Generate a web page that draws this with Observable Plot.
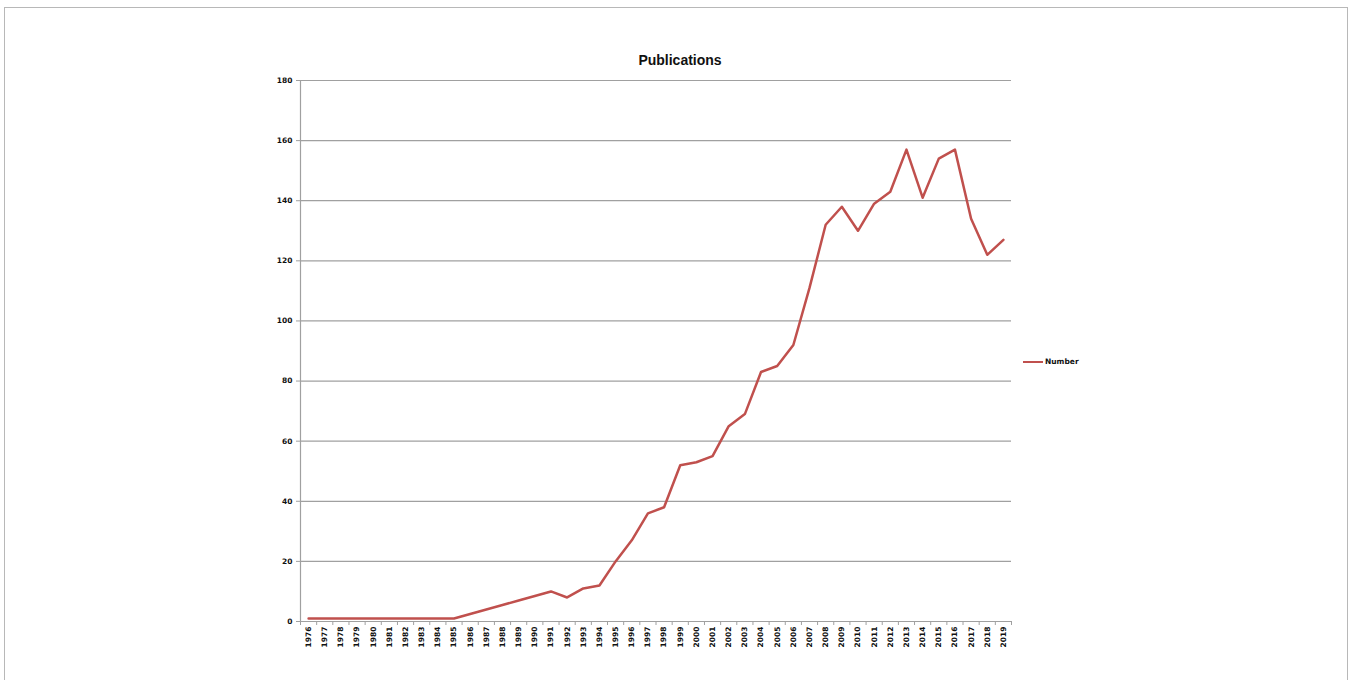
<!DOCTYPE html>
<html>
<head>
<meta charset="utf-8">
<script src="https://cdn.jsdelivr.net/npm/d3@7"></script>
<script src="https://cdn.jsdelivr.net/npm/@observablehq/plot@0.6"></script>
<style>
  html, body { margin: 0; padding: 0; background: #fff; }
  #wrap { position: relative; width: 1352px; height: 680px; overflow: hidden; }
  #frame { position: absolute; left: 4px; top: 7px; width: 1344px; height: 700px; border: 1px solid #b8b8b8; box-sizing: border-box; }
  #title { position: absolute; left: 0; top: 51px; width: 1360px; text-align: center; font: bold 14px "Liberation Sans", Arial, sans-serif; color: #111; line-height: 18px; }
  #legend { position: absolute; left: 1023px; top: 356px; font: bold 7.5px "DejaVu Sans", Verdana, sans-serif; color: #111; display: flex; align-items: center; line-height: 12px; }
  #legend .sw { display: inline-block; width: 20px; height: 2.5px; background: #c0504d; margin-right: 2px; }
  #chart { position: absolute; left: 0; top: 0; }
</style>
</head>
<body>
<div id="wrap">
  <div id="frame"></div>
  <div id="chart"></div>
  <div id="title">Publications</div>
  <div id="legend"><span class="sw"></span><span>Number</span></div>
</div>
<script>
const years = [1976, 1977, 1978, 1979, 1980, 1981, 1982, 1983, 1984, 1985,
  1986, 1987, 1988, 1989, 1990, 1991, 1992, 1993, 1994, 1995,
  1996, 1997, 1998, 1999, 2000, 2001, 2002, 2003, 2004, 2005,
  2006, 2007, 2008, 2009, 2010, 2011, 2012, 2013, 2014, 2015,
  2016, 2017, 2018, 2019];
const counts = [1, 1, 1, 1, 1, 1, 1, 1, 1, 1,
  2.5, 4, 5.5, 7, 8.5, 10, 8, 11, 12, 20,
  27, 36, 38, 52, 53, 55, 65, 69, 83, 85,
  92, 111, 132, 138, 130, 139, 143, 157, 141, 154,
  157, 134, 122, 127];
const yTicks = [0, 20, 40, 60, 80, 100, 120, 140, 160, 180];

const data = years.map((year, i) => ({year, count: counts[i]}));
const edges = years.map(y => y - 0.5).concat([years[years.length - 1] + 0.5]);

const tickFont = "DejaVu Sans, Verdana, sans-serif";
const chart = Plot.plot({
  width: 1352,
  height: 680,
  marginLeft: 300,
  marginRight: 341,
  marginTop: 80,
  marginBottom: 59,
  style: {background: "transparent", fontFamily: tickFont},
  x: {domain: [edges[0], edges[edges.length - 1]], axis: null, label: null},
  y: {domain: [0, 180], axis: null, label: null},
  marks: [
    Plot.gridY(yTicks, {stroke: "#a0a0a0", strokeOpacity: 1, strokeWidth: 1.2}),
    Plot.ruleX([edges[0]], {stroke: "#a0a0a0", strokeWidth: 1.2}),
    Plot.axisY(yTicks, {label: null, tickSize: 4, tickPadding: 4, stroke: "#a0a0a0", fill: "#111", fontSize: 7.5, fontWeight: "bold", tickFormat: d => String(d)}),
    Plot.axisX(edges, {label: null, tickSize: 4, tickPadding: 0, stroke: "#a0a0a0", tickFormat: () => ""}),
    Plot.axisX(years, {label: null, tickSize: 0, tickPadding: 5, tickRotate: -90, fill: "#111", fontSize: 7.5, fontWeight: "bold", tickFormat: d => String(d)}),
    Plot.line(data, {x: "year", y: "count", stroke: "#c0504d", strokeWidth: 2.5, strokeLinejoin: "round"})
  ]
});
document.getElementById("chart").appendChild(chart);
</script>
</body>
</html>
